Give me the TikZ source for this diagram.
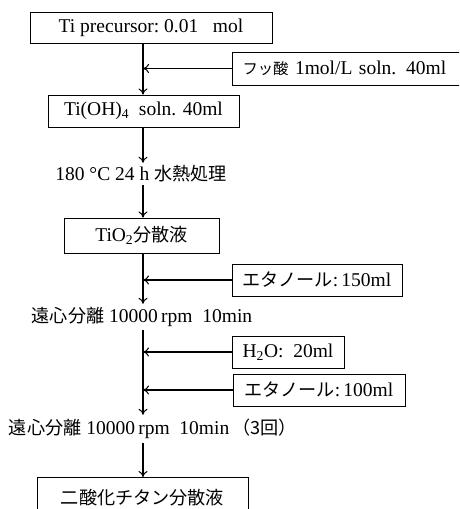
\documentclass[tikz,border=0pt]{standalone}
\usepackage{fontspec}
\setmainfont{Liberation Serif}
\newfontfamily\jp[Scale=0.93]{Noto Sans CJK JP}
\usetikzlibrary{arrows.meta}
\tikzset{
  box/.style={draw, line width=1pt, inner sep=0pt, minimum height=32pt},
  lbl/.style={inner sep=0pt},
  arr/.style={line width=1.1pt, -{To[length=6pt,width=9pt,line width=1pt]}},
}
\begin{document}
\begin{tikzpicture}[x=1pt,y=-1pt,font=\fontsize{19.5}{23}\selectfont]
\useasboundingbox (0,0) rectangle (459,509);
\fill[white] (0,0) rectangle (459,509);
\coordinate (m) at (143,0);
\begin{scope}
\clip (0,0) rectangle (459,509);
\node[box, minimum width=242pt, minimum height=31pt] (b1) at (151,27.5) {Ti precursor:\ 0.01\ \ \ mol};
\node[box, anchor=west, minimum width=245pt, minimum height=33pt, text width=225pt, align=left, inner xsep=10pt] (b2) at (232,68.5) {{\jp\fontsize{16.5}{20}\selectfont フッ酸} 1mol/L soln. 40ml};
\node[box, minimum width=191pt] (b3) at (143.5,111) {Ti(OH)\textsubscript{4}\ \ soln. 40ml};
\node[lbl, minimum height=22pt] (t1) at (141,174) {180 °C 24 h {\jp 水熱処理}};
\node[box, minimum width=155pt, minimum height=35pt] (b4) at (141.5,235.5) {TiO\textsubscript{2}{\jp 分散液}};
\node[box, minimum width=170pt] (b5) at (317,280) {{\jp エタノール}:\,150ml};
\node[lbl, minimum height=26pt] (t2) at (142,317) {{\jp 遠心分離}\ 10000\,rpm\ \ 10min};
\node[box, minimum width=112pt] (b6) at (288,352) {H\textsubscript{2}O:\ \ 20ml};
\node[box, minimum width=172pt] (b7) at (319,390) {{\jp エタノール}:\,100ml};
\node[lbl, minimum height=28pt] (t3) at (153,429) {{\jp 遠心分離}\ 10000\,rpm\ \ 10min\,{\jp （3回）}};
\node[box, anchor=north, minimum width=211pt, minimum height=40pt] (b8) at (142.5,477) {\jp 二酸化チタン分散液};
\end{scope}
\coordinate (j1) at (m |- b2.west);
\coordinate (j2) at (m |- b5.west);
\coordinate (j3) at (m |- b6.west);
\coordinate (j4) at (m |- b7.west);
\draw[arr] (m |- b1.south) -- (m |- b3.north);
\draw[arr] (b2.west) -- (j1);
\draw[arr] (m |- b3.south) -- (m |- t1.north);
\draw[arr] (m |- t1.south) -- (m |- b4.north);
\draw[arr] (m |- b4.south) -- (m |- t2.north);
\draw[arr] (b5.west) -- (j2);
\draw[arr] (m |- t2.south) -- (m |- t3.north);
\draw[arr] (b6.west) -- (j3);
\draw[arr] (b7.west) -- (j4);
\draw[arr] (m |- t3.south) -- (m |- b8.north);
\end{tikzpicture}
\end{document}
